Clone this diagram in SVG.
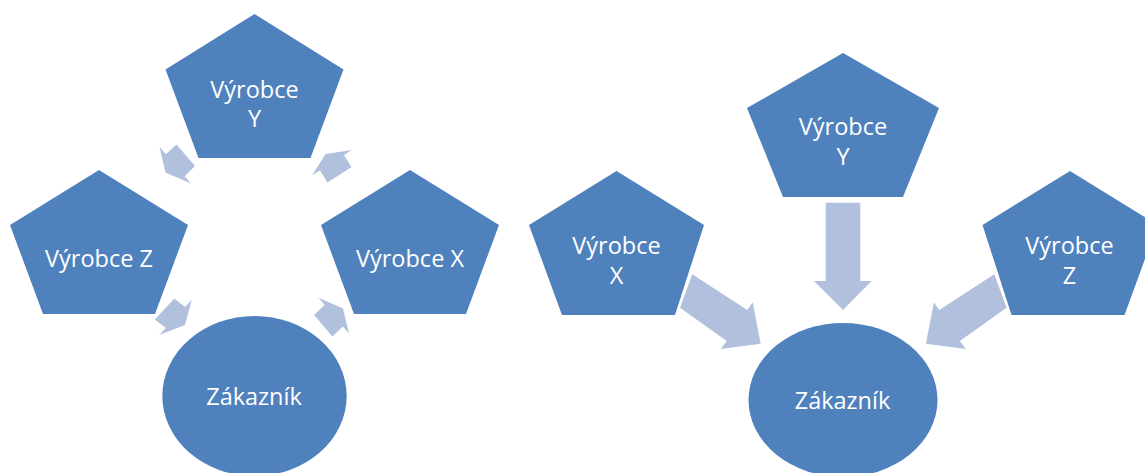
<svg xmlns="http://www.w3.org/2000/svg" width="1145" height="473" viewBox="0 0 1145 473">
<style>
.node{fill:#4F81BD;}
.arr{fill:#B1C1DD;}
.t{font-family:"Open Sans","Noto Sans","Liberation Sans",sans-serif;font-size:23.5px;fill:#FFFFFF;text-anchor:middle;}
</style>
<rect width="1145" height="473" fill="#FFFFFF"/>
<g id="connectors">
<polygon class="arr" points="165.5,172.5 159.5,147 165.8,154.3 176.5,144.5 195,166 184.7,176.2 191,183.5"/>
<polygon class="arr" points="325.5,154 352,150 344,155.1 351.5,167.1 327.5,182.4 320,170.4 312,175.5"/>
<polygon class="arr" points="185,325 191.7,300 185.2,307 174.3,298.6 154.9,319.6 165.8,328 159.3,335"/>
<polygon class="arr" points="343,308.5 318.5,297.8 324.6,305 314.1,315 332.4,336.4 342.9,326.4 349,333.5"/>
<polygon class="arr" points="825.7,202.7 860.3,202.7 860.3,281 871.7,281 843,310 814,281 825.7,281"/>
<polygon class="arr" points="692.3,274.3 747.3,310 752.7,302.3 760.7,343.7 720.7,349 726.7,341 680,307.7"/>
<polygon class="arr" points="994.3,274.3 939.3,310 933.9,302.3 925.9,343.7 965.9,349 959.9,341 1006.6,307.7"/>
</g>
<g id="left-vyrobce-y">
<polygon class="node" points="254.5,14 343.5,69.5 310.5,158 198.5,158 165.5,69.5"/>
<text class="t" x="254.5" y="98">Výrobce</text>
<text class="t" x="254.5" y="127">Y</text>
</g>
<g id="left-vyrobce-z">
<polygon class="node" points="99,170 188,225 155,314 43,314 10,225"/>
<text class="t" x="99" y="267">Výrobce Z</text>
</g>
<g id="left-vyrobce-x">
<polygon class="node" points="410,170 499,225 466,314 354,314 321,225"/>
<text class="t" x="410" y="267">Výrobce X</text>
</g>
<g id="left-zakaznik">
<ellipse class="node" cx="254.5" cy="396" rx="92.2" ry="80"/>
<text class="t" x="254" y="404.5">Zákazník</text>
</g>
<g id="right-vyrobce-x">
<polygon class="node" points="616.5,171 704,225 675,315 562,315 529,225"/>
<text class="t" x="616.5" y="253.5">Výrobce</text>
<text class="t" x="616.5" y="283.5">X</text>
</g>
<g id="right-vyrobce-y">
<polygon class="node" points="843,53 939,108 903,197 783,197 747,108"/>
<text class="t" x="843" y="135">Výrobce</text>
<text class="t" x="843" y="165">Y</text>
</g>
<g id="right-vyrobce-z">
<polygon class="node" points="1070,171 1157.5,225 1124.5,315 1011.5,315 982.5,225"/>
<text class="t" x="1069.5" y="253.5">Výrobce</text>
<text class="t" x="1069.5" y="283.5">Z</text>
</g>
<g id="right-zakaznik">
<ellipse class="node" cx="843" cy="400" rx="94.5" ry="77"/>
<text class="t" x="842.5" y="408.5">Zákazník</text>
</g>
</svg>
